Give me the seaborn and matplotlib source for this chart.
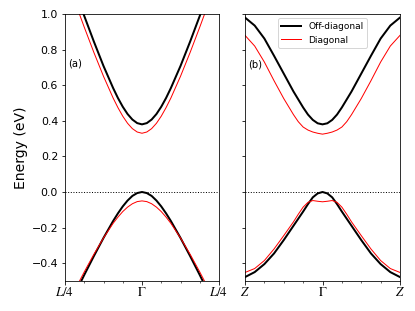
import matplotlib
matplotlib.use("Agg")
import matplotlib.pyplot as plt
import seaborn as sns

# k-points along the two paths (units of the minor ticks)
k_a = [-4, -3.5, -3, -2.5, -2, -1.5, -1.25, -1, -0.75, -0.5, -0.25, 0,
       0.25, 0.5, 0.75, 1, 1.25, 1.5, 2, 2.5, 3, 3.5, 4]
k_b = [-4, -3.5, -3, -2.5, -2, -1.5, -1.25, -1, -0.75, -0.5, -0.25, 0,
       0.25, 0.5, 0.75, 1, 1.25, 1.5, 2, 2.5, 3, 3.5, 4]

# panel (a): L/4 - Gamma - L/4
cb_off_a = [1.292, 1.139, 0.989, 0.845, 0.708, 0.584, 0.528, 0.479, 0.438, 0.407, 0.387, 0.380,
            0.387, 0.407, 0.438, 0.479, 0.528, 0.584, 0.708, 0.845, 0.989, 1.139, 1.292]
cb_diag_a = [1.223, 1.073, 0.926, 0.784, 0.650, 0.528, 0.474, 0.426, 0.386, 0.356, 0.337, 0.330,
             0.337, 0.356, 0.386, 0.426, 0.474, 0.528, 0.650, 0.784, 0.926, 1.073, 1.223]
vb_off_a = [-0.687, -0.576, -0.466, -0.360, -0.258, -0.163, -0.120, -0.081, -0.048, -0.022, -0.006, 0.0,
            -0.006, -0.022, -0.048, -0.081, -0.120, -0.163, -0.258, -0.360, -0.466, -0.576, -0.687]
vb_diag_a = [-0.660, -0.553, -0.449, -0.350, -0.258, -0.176, -0.141, -0.110, -0.085, -0.066, -0.054, -0.050,
             -0.054, -0.066, -0.085, -0.110, -0.141, -0.176, -0.258, -0.350, -0.449, -0.553, -0.660]

# panel (b): Z - Gamma - Z
cb_off_b = [0.980, 0.935, 0.862, 0.765, 0.665, 0.565, 0.520, 0.475, 0.435, 0.405, 0.386, 0.380,
            0.386, 0.405, 0.435, 0.475, 0.520, 0.565, 0.665, 0.765, 0.862, 0.935, 0.980]
cb_diag_b = [0.880, 0.820, 0.730, 0.625, 0.525, 0.435, 0.395, 0.365, 0.348, 0.337, 0.330, 0.325,
             0.330, 0.337, 0.348, 0.365, 0.395, 0.435, 0.525, 0.625, 0.730, 0.820, 0.880]
vb_off_b = [-0.478, -0.450, -0.405, -0.345, -0.270, -0.190, -0.150, -0.110, -0.068, -0.030, -0.008, 0.0,
            -0.008, -0.030, -0.068, -0.110, -0.150, -0.190, -0.270, -0.345, -0.405, -0.450, -0.478]
vb_diag_b = [-0.452, -0.430, -0.385, -0.320, -0.245, -0.168, -0.125, -0.085, -0.058, -0.048, -0.052, -0.055,
             -0.052, -0.048, -0.058, -0.085, -0.125, -0.168, -0.245, -0.320, -0.385, -0.430, -0.452]

plt.rcParams['mathtext.fontset'] = 'stix'

fig = plt.figure(figsize=(415 / 72, 311 / 72), dpi=72)
ax1 = fig.add_axes([65 / 415, 30 / 311, 154 / 415, 267 / 311])
ax2 = fig.add_axes([245 / 415, 30 / 311, 155 / 415, 267 / 311])

# (a)
sns.lineplot(x=k_a, y=cb_off_a, ax=ax1, color='k', lw=2, sort=False)
sns.lineplot(x=k_a, y=vb_off_a, ax=ax1, color='k', lw=2, sort=False)
sns.lineplot(x=k_a, y=cb_diag_a, ax=ax1, color='r', lw=1, sort=False)
sns.lineplot(x=k_a, y=vb_diag_a, ax=ax1, color='r', lw=1, sort=False)
ax1.axhline(0, color='k', ls=':', lw=1)
ax1.set_xticks([-4, 0, 4])
ax1.set_xticklabels([r'$L/4$', r'$\Gamma$', r'$L/4$'])
ax1.text(0.02, 0.815, '(a)', transform=ax1.transAxes, fontsize=10, va='center')
ax1.set_ylabel('Energy (eV)', fontsize=14)

# (b)
sns.lineplot(x=k_b, y=cb_off_b, ax=ax2, color='k', lw=2, sort=False, label='Off-diagonal')
sns.lineplot(x=k_b, y=vb_off_b, ax=ax2, color='k', lw=2, sort=False)
sns.lineplot(x=k_b, y=cb_diag_b, ax=ax2, color='r', lw=1, sort=False, label='Diagonal')
sns.lineplot(x=k_b, y=vb_diag_b, ax=ax2, color='r', lw=1, sort=False)
ax2.axhline(0, color='k', ls=':', lw=1)
ax2.set_xticks([-4, 0, 4])
ax2.set_xticklabels([r'$Z$', r'$\Gamma$', r'$Z$'])
ax2.text(0.02, 0.81, '(b)', transform=ax2.transAxes, fontsize=10, va='center')
ax2.legend(loc='upper center', fontsize=9, handlelength=2.2)

for ax in (ax1, ax2):
    ax.set_xlim(-4, 4)
    ax.set_xticks(range(-3, 4), minor=True)
    ax.set_ylim(-0.5, 1.0)
    ax.set_yticks([-0.4, -0.2, 0.0, 0.2, 0.4, 0.6, 0.8, 1.0])
    ax.tick_params(axis='y', labelsize=11)
    ax.tick_params(axis='x', which='major', labelsize=13, pad=2)
ax2.set_yticklabels([])

fig.savefig('out.png', dpi=72)
